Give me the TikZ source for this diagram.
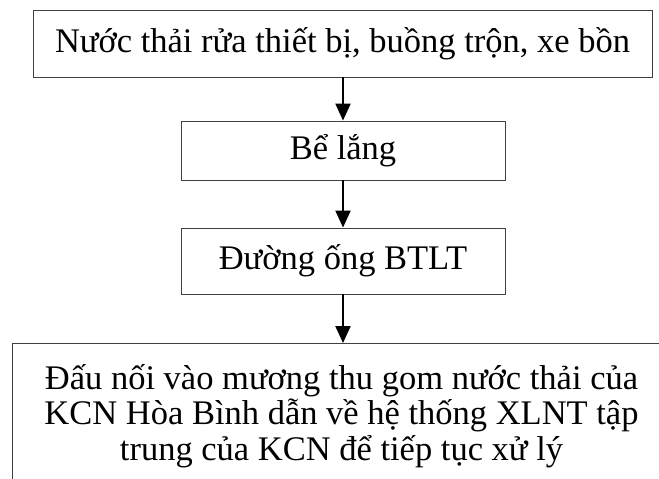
\documentclass[tikz,border=0pt]{standalone}
\usepackage{fontspec}
\setmainfont{Liberation Serif}
\usetikzlibrary{arrows.meta}
\tikzset{
  stepbox/.style={draw=black!75, line width=0.9pt, inner sep=0pt},
  flow/.style={-{Triangle[width=15pt,length=17pt]}, line width=2.2pt}
}
\begin{document}
\begin{tikzpicture}[x=1pt, y=-1pt, every node/.append style={font=\fontsize{34.5}{35.5}\selectfont}]
  \clip (0,0) rectangle (659,479);
  \node[stepbox, minimum width=619pt, minimum height=67pt] (wash) at (342.5,43.5) {Nước thải rửa thiết bị, buồng trộn, xe bồn};
  \node[stepbox, minimum width=324pt, minimum height=59pt] (tank) at (343,150.5) {Bể lắng};
  \node[stepbox, minimum width=324pt, minimum height=66pt] (pipe) at (343,261) {Đường ống BTLT};
  \node[stepbox, anchor=north west, minimum width=700pt, minimum height=200pt] (sinkbox) at (12,343) {};
  \node[align=center, inner sep=0pt] (sink) at (341.5,416) {Đấu nối vào mương thu gom nước thải của\\KCN Hòa Bình dẫn về hệ thống XLNT tập\\trung của KCN để tiếp tục xử lý};
  \draw[flow] (wash.south -| tank) -- (tank);
  \draw[flow] (tank) -- (pipe);
  \draw[flow] (pipe) -- (pipe.south |- sinkbox.north);
\end{tikzpicture}
\end{document}
